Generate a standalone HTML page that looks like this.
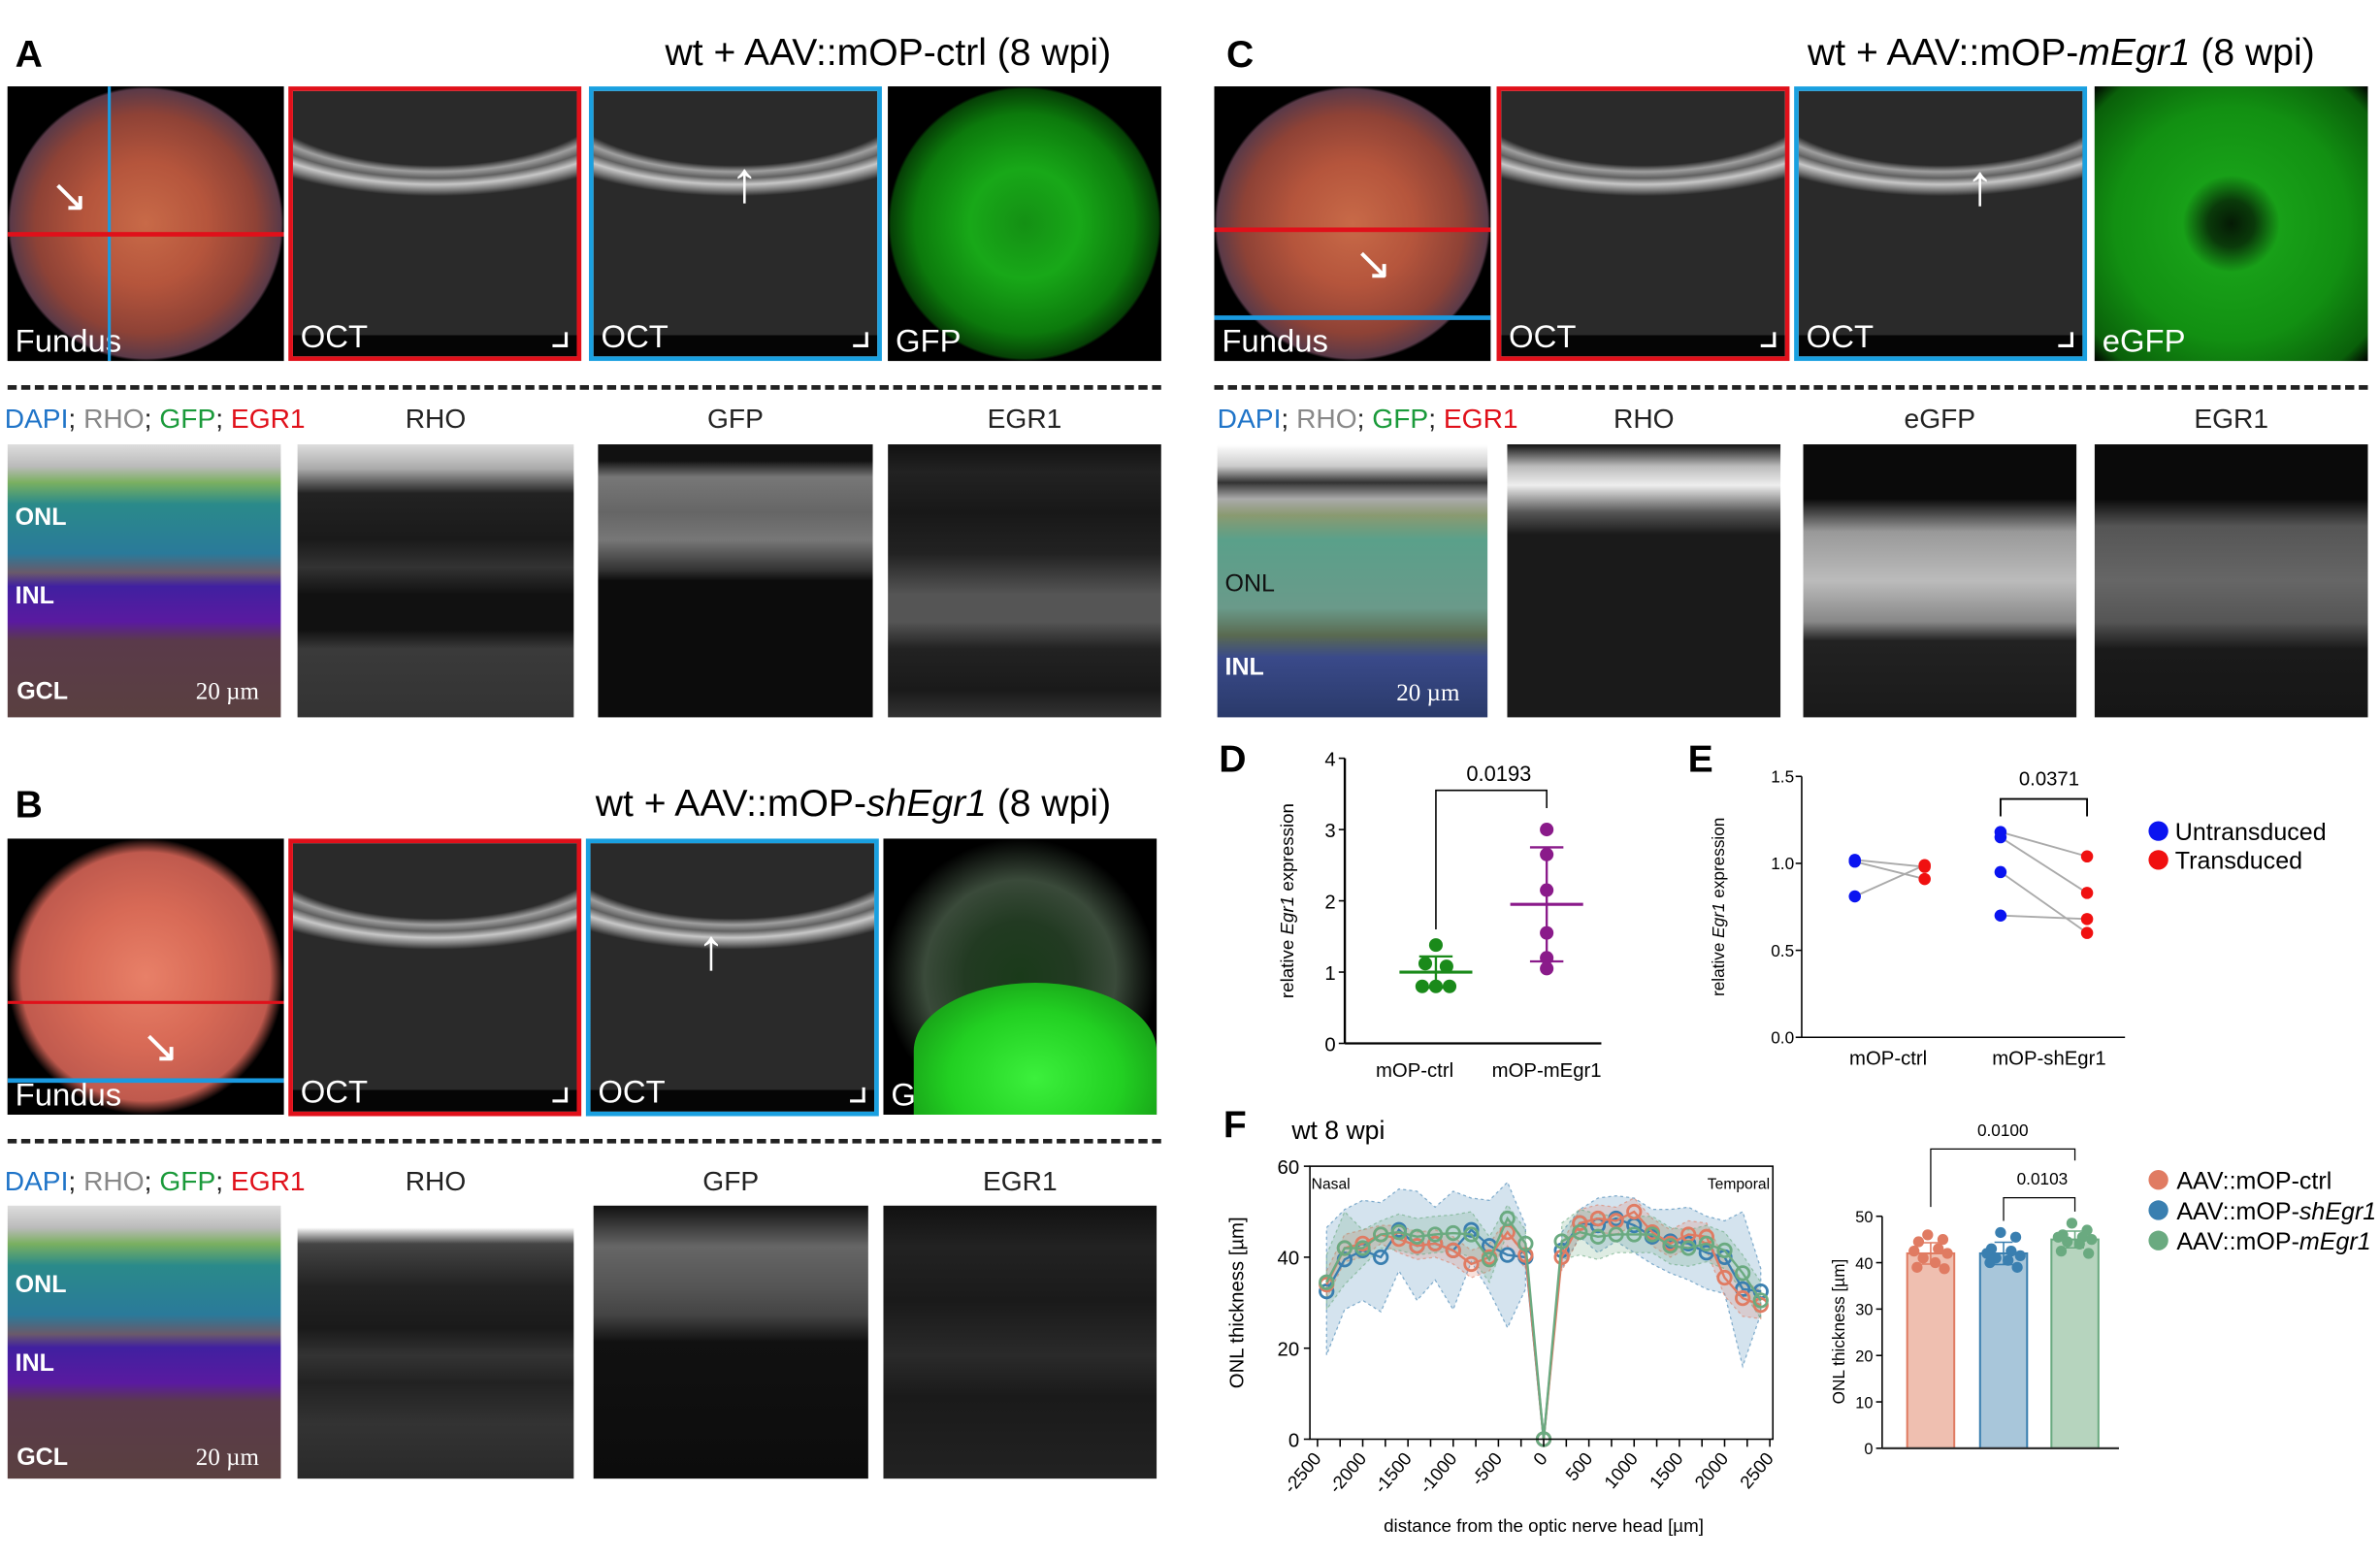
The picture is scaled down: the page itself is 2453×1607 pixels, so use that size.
<!DOCTYPE html>
<html><head><meta charset="utf-8">
<style>
html,body{margin:0;padding:0;background:#fff;overflow:hidden}
#root{position:absolute;left:0;top:0;width:1568px;height:1028px;transform-origin:0 0;transform:scale(1.56442,1.56323);font-family:"Liberation Sans",sans-serif;}
.abs{position:absolute}
.plab{position:absolute;font-weight:bold;font-size:25px;color:#000}
.title{position:absolute;font-size:25px;color:#000;text-align:right;white-space:nowrap}
.img{position:absolute;overflow:hidden;box-sizing:border-box}
.il{position:absolute;left:5px;bottom:0px;color:#fff;font-size:21px}
.dash{position:absolute;height:0;border-top:3px dashed #222}
.ch{position:absolute;font-size:18px;color:#222;text-align:center}
.lay{position:absolute;color:#fff;font-weight:bold;font-size:16px}
svg text{font-family:"Liberation Sans",sans-serif}
</style></head><body>
<div id="root">
<div class="plab" style="left:10px;top:22px">A</div>
<div class="title" style="right:836px;top:21px">wt + AAV::mOP-ctrl (8 wpi)</div>
<div class="plab" style="left:10px;top:517px">B</div>
<div class="title" style="right:836px;top:516px">wt + AAV::mOP-<i>shEgr1</i> (8 wpi)</div>
<div class="plab" style="left:808px;top:22px">C</div>
<div class="title" style="right:43px;top:21px">wt + AAV::mOP-<i>mEgr1</i> (8 wpi)</div>
<div class="dash" style="left:5px;width:760px;top:254px"></div>
<div class="dash" style="left:5px;width:760px;top:751px"></div>
<div class="dash" style="left:800px;width:760px;top:254px"></div>

<div class="ch" style="left:3px;top:266px;text-align:left"><span style="color:#1f74c8">DAPI</span>; <span style="color:#888">RHO</span>; <span style="color:#1a9a3a">GFP</span>; <span style="color:#e0101a">EGR1</span></div>
<div class="ch" style="left:196px;width:182px;top:266px">RHO</div>
<div class="ch" style="left:394px;width:181px;top:266px">GFP</div>
<div class="ch" style="left:585px;width:180px;top:266px">EGR1</div>
<div class="ch" style="left:3px;top:769px;text-align:left"><span style="color:#1f74c8">DAPI</span>; <span style="color:#888">RHO</span>; <span style="color:#1a9a3a">GFP</span>; <span style="color:#e0101a">EGR1</span></div>
<div class="ch" style="left:196px;width:182px;top:769px">RHO</div>
<div class="ch" style="left:391px;width:181px;top:769px">GFP</div>
<div class="ch" style="left:582px;width:180px;top:769px">EGR1</div>
<div class="ch" style="left:802px;top:266px;text-align:left"><span style="color:#1f74c8">DAPI</span>; <span style="color:#888">RHO</span>; <span style="color:#1a9a3a">GFP</span>; <span style="color:#e0101a">EGR1</span></div>
<div class="ch" style="left:993px;width:180px;top:266px">RHO</div>
<div class="ch" style="left:1188px;width:180px;top:266px">eGFP</div>
<div class="ch" style="left:1380px;width:180px;top:266px">EGR1</div>

<div id="imgs"></div>

<div class="plab" style="left:803px;top:487px">D</div>
<div class="plab" style="left:1112px;top:487px">E</div>
<div class="plab" style="left:806px;top:728px">F</div>
<svg class="abs" style="left:0;top:0" width="1568" height="1028" id="charts"></svg>
</div>

<script>
// ---------- Panel D data ----------
const dGroups = ['mOP-ctrl','mOP-mEgr1'];
const dCtrl = [1.38,1.12,1.08,0.8,0.8,0.8];
const dMegr = [3.0,2.65,2.15,1.55,1.2,1.05];
const dMean = [1.0,1.95];
const dSD = [0.22,0.8];
const dTicks = [0,1,2,3,4];
const dP = '0.0193';
// ---------- Panel E data ----------
const eGroups = ['mOP-ctrl','mOP-shEgr1'];
const eCtrlUn = [1.02,1.01,0.81];
const eCtrlTr = [0.98,0.91,0.99];
const eShUn = [1.18,1.15,0.95,0.70];
const eShTr = [1.04,0.83,0.60,0.68];
const eTicks = [0.0,0.5,1.0,1.5];
const eP = '0.0371';
// ---------- Panel F line data ----------
const fDist = [-2400,-2200,-2000,-1800,-1600,-1400,-1200,-1000,-800,-600,-400,-200,0,200,400,600,800,1000,1200,1400,1600,1800,2000,2200,2400];
const fCtrl = [34,42,43,45,44,42.5,43,41.5,38.5,40,45.5,40.5,0,40,47.5,48.5,48,50,45.5,43,45,44.5,35.5,31,29.5];
const fSh = [32.5,39.5,41.5,40,46,42.5,43,41.5,46,42.5,40.5,40,0,41.5,47.5,47,48.5,47,44.5,43.5,43,41,40,33,32.5];
const fMegr = [34.5,42,42,45,45.5,44.5,45,45.3,45,39.5,48.5,43,0,43.5,45.5,44.5,45,45,45,42.5,42,43,41.5,36.5,30.5];
const fCtrlSD = [3,3,3,2,3,3,3,3,3,3,3,3,0,3,3,3,3,3,3,3,3,3,4,4,3];
const fShSD = [14,11,11,12,9,12,8,13,7,10,16,7,0,4,3,6,5,6,6,7,8,8,8,17,5];
const fMegrSD = [6,8,4,3,4,4,4,4,5,5,3,3,0,4,5,5,4,4,4,4,4,4,4,4,4];
const fXTicks = [-2500,-2000,-1500,-1000,-500,0,500,1000,1500,2000,2500];
const fYTicks = [0,20,40,60];
// ---------- Panel F bar data ----------
const bGroups = ['AAV::mOP-ctrl','AAV::mOP-shEgr1','AAV::mOP-mEgr1'];
const bMeans = [42,42,45];
const bSD = [2.3,2.4,1.8];
const bCtrlPts = [46,45,44.5,43,42.5,42,41,40,39,38.7];
const bShPts = [46.5,45.5,43,42.5,42,41.5,41,40.5,40,39];
const bMegrPts = [48.5,47,46,45.5,45.5,45,44.5,44,42.5,42];
const bYTicks = [0,10,20,30,40,50];

const NS='http://www.w3.org/2000/svg';
const svg=document.getElementById('charts');
function mk(tag,attrs,parent){const e=document.createElementNS(NS,tag);for(const k in attrs)e.setAttribute(k,attrs[k]);(parent||svg).appendChild(e);return e;}
function txt(x,y,s,attrs,parent){const t=mk('text',Object.assign({x:x,y:y},attrs||{}),parent);t.textContent=s;return t;}

// ===== Panel D =====
(function(){
 const g=mk('g',{});
 
 
 const y=v=>688-v*47, x0=886, gx=[946,1019];
 mk('line',{x1:x0,y1:500,x2:x0,y2:688,stroke:'#000','stroke-width':1.5},g);
 mk('line',{x1:x0,y1:688,x2:1055,y2:688,stroke:'#000','stroke-width':1.5},g);
 dTicks.forEach(t=>{mk('line',{x1:x0-4,y1:y(t),x2:x0,y2:y(t),stroke:'#000'},g);
  const l=txt(x0-6,y(t)+5,String(t),{'text-anchor':'end','font-size':13},g);
  
  });
 const yl=txt(0,0,'',{'font-size':12,transform:'translate(852,594) rotate(-90)','text-anchor':'middle'},g);
 yl.innerHTML='relative <tspan font-style="italic">Egr1</tspan> expression';
 
 
 dGroups.forEach((n,i)=>{const l=txt(gx[i]+(i?0:-14),710,n,{'text-anchor':'middle','font-size':13},g);
  
  });
 const cols=['#1a8a1a','#8a1a8a'];
 [dCtrl,dMegr].forEach((arr,i)=>{
  const c=cols[i];
  arr.forEach((v,j)=>{const off=i===0?[0,-7,7,-9,0,9][j]:0;
   const p=mk('circle',{cx:gx[i]+off,cy:y(v),r:4.5,fill:c},g);
   
   });
  mk('line',{x1:gx[i]-24,y1:y(dMean[i]),x2:gx[i]+24,y2:y(dMean[i]),stroke:c,'stroke-width':2},g);
  mk('line',{x1:gx[i],y1:y(dMean[i]-dSD[i]),x2:gx[i],y2:y(dMean[i]+dSD[i]),stroke:c,'stroke-width':1.5},g);
  [dMean[i]-dSD[i],dMean[i]+dSD[i]].forEach(v=>mk('line',{x1:gx[i]-11,y1:y(v),x2:gx[i]+11,y2:y(v),stroke:c,'stroke-width':1.5},g));
 });
 mk('polyline',{points:`${gx[0]},${y(1.6)} ${gx[0]},${y(3.55)} ${gx[1]},${y(3.55)} ${gx[1]},${y(3.3)}`,fill:'none',stroke:'#000','stroke-width':1},g);
 txt((gx[0]+gx[1])/2+5,515,dP,{'text-anchor':'middle','font-size':14},g);
})();

// ===== Panel E =====
(function(){
 const g=mk('g',{});
 
 
 const y=v=>684-v*114.7, x0=1187;
 mk('line',{x1:x0,y1:512,x2:x0,y2:684,stroke:'#000','stroke-width':1},g);
 mk('line',{x1:x0,y1:684,x2:1400,y2:684,stroke:'#000','stroke-width':1},g);
 eTicks.forEach(t=>{mk('line',{x1:x0-4,y1:y(t),x2:x0,y2:y(t),stroke:'#000'},g);
  const l=txt(x0-5,y(t)+4,t.toFixed(1),{'text-anchor':'end','font-size':11},g);
  
  });
 const yl=txt(0,0,'',{'font-size':11,transform:'translate(1136,598) rotate(-90)','text-anchor':'middle'},g);
 yl.innerHTML='relative <tspan font-style="italic">Egr1</tspan> expression';
 
 
 const cx=[1244,1350];
 eGroups.forEach((n,i)=>{const l=txt(cx[i],702,n,{'text-anchor':'middle','font-size':13},g);
  
  });
 const pairs=[[eCtrlUn,eCtrlTr,1222,1268],[eShUn,eShTr,1318,1375]];
 pairs.forEach(([u,t,xu,xt])=>{
  u.forEach((v,j)=>mk('line',{x1:xu,y1:y(v),x2:xt,y2:y(t[j]),stroke:'#aaa','stroke-width':1.2},g));
  u.forEach(v=>{const p=mk('circle',{cx:xu,cy:y(v),r:4,fill:'#0a14f0'},g);
   
   });
  t.forEach(v=>{const p=mk('circle',{cx:xt,cy:y(v),r:4,fill:'#f01010'},g);
   
   });
 });
 mk('polyline',{points:`1318,${y(1.27)} 1318,${y(1.37)} 1375,${y(1.37)} 1375,${y(1.27)}`,fill:'none',stroke:'#000','stroke-width':1.2},g);
 txt(1350,518,eP,{'text-anchor':'middle','font-size':13},g);
 const lg=mk('g',{},g);
 
 
 mk('circle',{cx:1422,cy:548,r:6.5,fill:'#0a14f0'},lg);
 txt(1433,554,'Untransduced',{'font-size':16},lg);
 mk('circle',{cx:1422,cy:567,r:6.5,fill:'#f01010'},lg);
 txt(1433,573,'Transduced',{'font-size':16},lg);
})();

// ===== Panel F line =====
(function(){
 const g=mk('g',{});
 
 
 const x=d=>1017+d*0.0596, y=v=>949-v*3;
 txt(851,751,'wt 8 wpi',{'font-size':17},g);
 const series=[[fSh,fShSD,'#3a7fb0'],[fCtrl,fCtrlSD,'#e07b62'],[fMegr,fMegrSD,'#6aaa80']];
 series.forEach(([v,sd,c])=>{
  [[0,12],[13,25]].forEach(([a,b])=>{
   let pts=[];for(let i=a;i<b;i++)pts.push(x(fDist[i])+','+y(v[i]+sd[i]));
   for(let i=b-1;i>=a;i--)pts.push(x(fDist[i])+','+y(v[i]-sd[i]));
   const band=mk('polygon',{points:pts.join(' '),fill:c,'fill-opacity':0.22,stroke:c,'stroke-opacity':0.6,'stroke-dasharray':'2,2','stroke-width':0.8},g);
   
   
  });
 });
 series.forEach(([v,sd,c])=>{
  const pl=mk('polyline',{points:fDist.map((d,i)=>x(d)+','+y(v[i])).join(' '),fill:'none',stroke:c,'stroke-width':1.5},g);
  
  
  fDist.forEach((d,i)=>{const p=mk('circle',{cx:x(d),cy:y(v[i]),r:4.3,fill:'none',stroke:c,'stroke-width':1.8},g);
   
   });
 });
 mk('rect',{x:863,y:769,width:305,height:180,fill:'none',stroke:'#000','stroke-width':1},g);
 fYTicks.forEach(t=>{mk('line',{x1:859,y1:y(t),x2:863,y2:y(t),stroke:'#000'},g);
  const l=txt(856,y(t)+5,String(t),{'text-anchor':'end','font-size':13},g);
  
  });
 for(let d=-2500;d<=2500;d+=250){mk('line',{x1:x(d),y1:949,x2:x(d),y2:954,stroke:'#000'},g);}
 fXTicks.forEach(t=>{const l=txt(x(t)+3,962,String(t),{'text-anchor':'end','font-size':12,transform:`rotate(-50 ${x(t)+3} 962)`},g);
  
  });
 txt(864,784,'Nasal',{'font-size':10},g);
 txt(1166,784,'Temporal',{'font-size':10,'text-anchor':'end'},g);
 const xl=txt(1017,1010,'distance from the optic nerve head [µm]',{'text-anchor':'middle','font-size':12},g);
 
 
 const yl=txt(0,0,'ONL thickness [µm]',{'font-size':13,transform:'translate(819,859) rotate(-90)','text-anchor':'middle'},g);
 
 
})();

// ===== Panel F bars =====
(function(){
 const g=mk('g',{});
 
 
 const y=v=>955-v*3.06, x0=1240, cx=[1272,1320,1367];
 const cols=['#e07b62','#3a7fb0','#6aaa80'], fills=['#efbfb0','#a8c6da','#b6d4be'];
 bYTicks.forEach(t=>{mk('line',{x1:x0-4,y1:y(t),x2:x0,y2:y(t),stroke:'#000'},g);
  const l=txt(x0-6,y(t)+4,String(t),{'text-anchor':'end','font-size':10.5},g);
  
  });
 mk('line',{x1:x0,y1:y(50),x2:x0,y2:955,stroke:'#000'},g);
 const pts=[bCtrlPts,bShPts,bMegrPts];
 bMeans.forEach((m,i)=>{
  const b=mk('rect',{x:cx[i]-15.5,y:y(m),width:31,height:955-y(m),fill:fills[i],stroke:cols[i],'stroke-width':1.3},g);
  
  
  mk('line',{x1:cx[i],y1:y(m-bSD[i]),x2:cx[i],y2:y(m+bSD[i]),stroke:cols[i]},g);
  [m-bSD[i],m+bSD[i]].forEach(v=>mk('line',{x1:cx[i]-6,y1:y(v),x2:cx[i]+6,y2:y(v),stroke:cols[i]},g));
  pts[i].forEach((v,j)=>{const p=mk('circle',{cx:cx[i]+[-2,8,-8,5,-11,11,-5,3,-9,9][j],cy:y(v),r:3.6,fill:cols[i]},g);
   
   });
 });
 mk('line',{x1:1240,y1:955,x2:1396,y2:955,stroke:'#333','stroke-width':1.5},g);
 mk('polyline',{points:`${cx[0]},${y(52)} ${cx[0]},${y(64.5)} ${cx[2]},${y(64.5)} ${cx[2]},${y(62)}`,fill:'none',stroke:'#000','stroke-width':0.8},g);
 txt((cx[0]+cx[2])/2,749,'0.0100',{'text-anchor':'middle','font-size':11},g);
 mk('polyline',{points:`${cx[1]},${y(49)} ${cx[1]},${y(54)} ${cx[2]},${y(54)} ${cx[2]},${y(51)}`,fill:'none',stroke:'#000','stroke-width':0.8},g);
 txt((cx[1]+cx[2])/2+2,781,'0.0103',{'text-anchor':'middle','font-size':11},g);
 const yl=txt(0,0,'ONL thickness [µm]',{'font-size':11,transform:'translate(1215,878) rotate(-90)','text-anchor':'middle'},g);
 
 
 const lg=mk('g',{},g);
 
 
 const lab=['AAV::mOP-ctrl','AAV::mOP-<tspan font-style="italic">shEgr1</tspan>','AAV::mOP-<tspan font-style="italic">mEgr1</tspan>'];
 lab.forEach((s,i)=>{mk('circle',{cx:1422,cy:778+i*20,r:6.5,fill:cols[i]},lg);
  const t=txt(1434,784+i*20,'',{'font-size':16},lg);t.innerHTML=s;});
})();

// ===== Image panels =====
const imgs=document.getElementById('imgs');
function panel(name,x,y,w,h,bg,border,label){
 const d=document.createElement('div');
 d.className='img';
 d.style.cssText=`left:${x}px;top:${y}px;width:${w}px;height:${h}px;background:${bg};`+(border?`border:3px solid ${border};`:'');
 
 
 if(label){const l=document.createElement('div');l.className='il';l.textContent=label;d.appendChild(l);}
 imgs.appendChild(d);return d;
}
function add(parent,css,html){const e=document.createElement('div');e.style.cssText='position:absolute;'+css;if(html)e.innerHTML=html;parent.appendChild(e);return e;}
const fundusBg='radial-gradient(ellipse 50% 50% at 50% 50%, #c86a48 0%, #b5553c 45%, #8e4236 80%, #5a3a48 98%, #000 100%), #000';
const fundusBgB='radial-gradient(ellipse 50% 50% at 50% 50%, #e88068 0%, #d86a56 50%, #c05a4e 90%, #000 100%), #000';
const octBg='linear-gradient(to bottom,#2a2a2a 0%,#2a2a2a 92%,#050505 92%)';
const octBand='radial-gradient(ellipse 90% 40% at 50% 0%, transparent 70%, #a0a0a0 76%, #606060 82%, #c8c8c8 88%, #777 94%, transparent 99%)';
function oct(name,x,y,w,h,border){
 const p=panel(name,x,y,w,h,octBand+','+octBg,border,'OCT');
 add(p,`right:6px;bottom:6px;width:8px;height:8px;border-right:2px solid #fff;border-bottom:2px solid #fff`);
 return p;
}
const gfpBg='radial-gradient(ellipse 50% 50% at 50% 50%, #149014 0%, #18a818 40%, #0c7a0c 80%, #064006 98%, #000 100%), #000';
const merged='linear-gradient(to bottom,#ddd 0%,#bbb 8%,#7ab060 14%,#2a8a8a 22%,#2a7a9a 40%,#6a5a6a 47%,#4020a0 52%,#5a1aa0 65%,#5a3a4a 72%,#5a4040 100%)';
const rho='linear-gradient(to bottom,#ddd 0%,#aaa 9%,#222 18%,#1a1a1a 35%,#333 45%,#111 55%,#111 68%,#3a3a3a 75%,#333 100%)';
const gfp='linear-gradient(to bottom,#111 0%,#111 6%,#777 12%,#666 25%,#777 35%,#333 46%,#0c0c0c 50%,#0c0c0c 100%)';
const egr='linear-gradient(to bottom,#111 0%,#222 10%,#181818 25%,#222 40%,#555 55%,#555 65%,#222 75%,#1a1a1a 90%,#333 100%)';

let f=panel('fundus-a',5,57,182,181,fundusBg,null,'Fundus');
add(f,'left:66px;top:0;width:2px;height:181px;background:#1a9ae0');
add(f,'left:0;top:96px;width:182px;height:3px;background:#e0101a');
add(f,'left:28px;top:55px;color:#fff;font-size:30px','&#8600;');
oct('oct-a-red',190,57,193,181,'#e0101a');
let o=oct('oct-a-blue',388,57,193,181,'#1aa0e0');
add(o,'left:90px;top:40px;color:#fff;font-size:38px','&#8593;');
panel('gfp-fundus-a',585,57,180,181,gfpBg,null,'GFP');
let m=panel('merge-a',5,293,180,180,merged,null,null);
add(m,'left:5px;top:40px','<span class="lay" style="position:static">ONL</span>');
add(m,'left:5px;top:92px','<span class="lay" style="position:static">INL</span>');
add(m,'left:6px;top:155px','<span class="lay" style="position:static">GCL</span>');
add(m,'left:124px;top:155px;color:#fff;font-family:Liberation Serif,serif;font-size:16px','20 µm');
panel('rho-a',196,293,182,180,rho,null,null);
panel('gfp-a',394,293,181,180,gfp,null,null);
panel('egr1-a',585,293,180,180,egr,null,null);

f=panel('fundus-b',5,553,182,182,fundusBgB,null,'Fundus');
add(f,'left:0;top:107px;width:182px;height:2px;background:#e0101a');
add(f,'left:0;top:158px;width:182px;height:3px;background:#1a9ae0');
add(f,'left:88px;top:120px;color:#fff;font-size:30px','&#8600;');
oct('oct-b-red',190,553,193,183,'#e0101a');
o=oct('oct-b-blue',386,553,193,183,'#1aa0e0');
add(o,'left:70px;top:50px;color:#fff;font-size:38px','&#8593;');
let gb=panel('gfp-fundus-b',582,553,180,182,'radial-gradient(ellipse 50% 50% at 50% 50%, #1a3a1a 0%, #223a22 40%, #3a4a3a 70%, #000 100%), #000',null,'GFP');
add(gb,'left:20px;top:95px;width:160px;height:90px;border-radius:50% 50% 0 0;background:radial-gradient(ellipse at 50% 70%,#3cf03c 0%,#22d022 50%,#118011 100%)');
m=panel('merge-b',5,795,180,180,merged,null,null);
add(m,'left:5px;top:44px','<span class="lay" style="position:static">ONL</span>');
add(m,'left:5px;top:96px','<span class="lay" style="position:static">INL</span>');
add(m,'left:6px;top:158px','<span class="lay" style="position:static">GCL</span>');
add(m,'left:124px;top:158px;color:#fff;font-family:Liberation Serif,serif;font-size:16px','20 µm');
panel('rho-b',196,795,182,180,'linear-gradient(to bottom,#fff 0%,#fff 8%,#444 14%,#222 30%,#1a1a1a 45%,#333 55%,#222 65%,#333 80%,#2a2a2a 100%)',null,null);
panel('gfp-b',391,795,181,180,'linear-gradient(to bottom,#111 0%,#666 15%,#555 30%,#444 40%,#111 50%,#0c0c0c 100%)',null,null);
panel('egr1-b',582,795,180,180,'linear-gradient(to bottom,#111 0%,#222 15%,#1a1a1a 35%,#2a2a2a 55%,#1a1a1a 70%,#222 100%)',null,null);

f=panel('fundus-c',800,57,182,181,fundusBg,null,'Fundus');
add(f,'left:0;top:93px;width:182px;height:3px;background:#e0101a');
add(f,'left:0;top:151px;width:182px;height:3px;background:#1a9ae0');
add(f,'left:92px;top:100px;color:#fff;font-size:30px','&#8600;');
oct('oct-c-red',986,57,193,181,'#e0101a');
o=oct('oct-c-blue',1182,57,193,181,'#1aa0e0');
add(o,'left:110px;top:42px;color:#fff;font-size:38px','&#8593;');
panel('egfp-fundus-c',1380,57,180,181,'radial-gradient(circle at 50% 50%, #051a05 0%, #0a3a0a 12%, #18a018 25%, #129012 60%, #0a600a 90%, #000 100%), #000',null,'eGFP');
m=panel('merge-c',802,293,178,180,'linear-gradient(to bottom,#fff 0%,#ccc 8%,#333 14%,#aaa 20%,#8a9a70 26%,#5aa08a 35%,#6a9a8a 60%,#5a6a50 70%,#3a4a8a 78%,#2a3a6a 100%)',null,null);
add(m,'left:5px;top:84px','<span class="lay" style="position:static;color:#111;font-weight:normal">ONL</span>');
add(m,'left:5px;top:139px','<span class="lay" style="position:static">INL</span>');
add(m,'left:118px;top:156px;color:#fff;font-family:Liberation Serif,serif;font-size:16px','20 µm');
panel('rho-c',993,293,180,180,'linear-gradient(to bottom,#111 0%,#bbb 8%,#eee 15%,#555 25%,#1a1a1a 33%,#1a1a1a 100%)',null,null);
panel('egfp-c',1188,293,180,180,'linear-gradient(to bottom,#0a0a0a 0%,#0a0a0a 20%,#999 32%,#bbb 50%,#888 65%,#222 72%,#1a1a1a 100%)',null,null);
panel('egr1-c',1380,293,180,180,'linear-gradient(to bottom,#0a0a0a 0%,#0a0a0a 20%,#555 30%,#666 50%,#555 65%,#1a1a1a 75%,#161616 100%)',null,null);
</script>
</body></html>
